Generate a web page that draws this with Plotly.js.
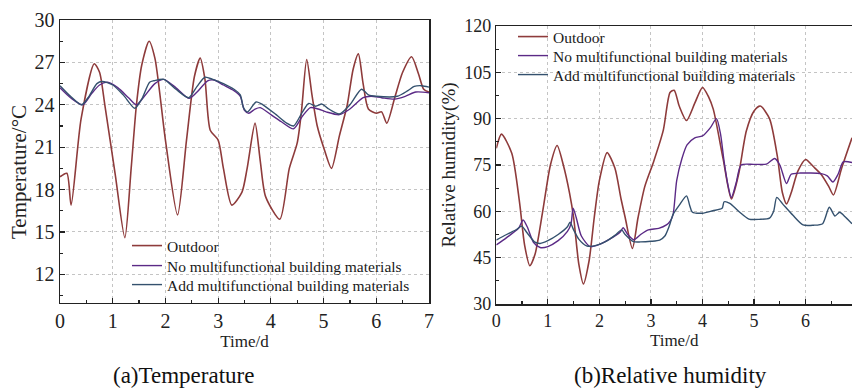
<!DOCTYPE html>
<html>
<head>
<meta charset="utf-8">
<script src="https://cdn.plot.ly/plotly-3.0.1.min.js"></script>
<style>html,body{margin:0;padding:0;background:#fff;}#chart{width:852px;height:392px;}</style>
</head>
<body>
<div id="chart"></div>
<script>
// ---------- (a) Temperature ----------
const tOutT = [0,0.13,0.21,0.4,0.65,0.75,0.85,1.05,1.23,1.35,1.45,1.55,1.69,1.8,2.0,2.23,2.4,2.55,2.66,2.75,2.85,3.0,3.1,3.26,3.45,3.55,3.7,3.8,3.9,4.17,4.35,4.5,4.58,4.68,4.78,4.88,5.0,5.15,5.3,5.45,5.56,5.66,5.75,5.85,6.0,6.1,6.2,6.35,6.5,6.67,6.8,6.9,7.0];
const outdoorT = [18.9,19.15,16.9,23.0,26.9,26.3,24.0,19.0,14.6,19.5,24.0,26.8,28.5,27.3,21.5,16.2,21.5,26.0,27.3,25.8,22.2,21.5,19.5,16.9,17.8,19.5,22.7,20.0,17.5,15.9,19.5,21.3,23.5,27.2,24.7,22.5,21.0,19.5,21.8,24.0,26.5,27.6,25.5,23.7,23.4,23.5,22.7,24.5,26.3,27.4,26.2,25.1,24.9];

const tNoT = [0,0.2,0.43,0.6,0.75,0.9,1.1,1.3,1.45,1.6,1.8,1.97,2.2,2.45,2.6,2.8,2.92,3.1,3.3,3.42,3.5,3.58,3.7,3.8,4.0,4.2,4.43,4.6,4.75,4.9,5.05,5.3,5.5,5.75,5.9,6.1,6.35,6.55,6.75,7.0];
const noT = [25.2,24.5,24.0,24.8,25.4,25.6,25.2,24.5,24.0,24.6,25.5,25.8,25.2,24.45,24.9,25.7,25.75,25.4,25.0,24.6,23.6,23.4,23.7,23.8,23.3,22.8,22.3,23.2,23.8,23.7,23.5,23.3,23.7,24.5,24.6,24.5,24.4,24.6,24.9,24.85];

const tAddT = [0,0.2,0.41,0.55,0.7,0.8,1.0,1.2,1.42,1.55,1.7,1.78,1.97,2.2,2.44,2.6,2.75,2.9,3.1,3.3,3.42,3.48,3.56,3.72,3.85,4.1,4.3,4.43,4.6,4.72,4.85,4.97,5.1,5.3,5.5,5.72,5.85,6.0,6.4,6.6,6.72,6.86,7.0];
const addT = [25.35,24.6,24.0,24.6,25.5,25.65,25.4,24.7,23.75,24.4,25.6,25.7,25.8,25.1,24.5,25.3,25.95,25.8,25.5,25.1,24.7,23.8,23.5,24.2,24.0,23.3,22.7,22.5,23.5,24.1,23.9,24.05,23.7,23.35,24.0,25.1,24.7,24.6,24.6,25.0,25.3,25.35,25.25];

// ---------- (b) Relative humidity ----------
const tOutH = [0,0.1,0.3,0.45,0.55,0.65,0.75,0.9,1.05,1.18,1.3,1.42,1.5,1.6,1.69,1.8,1.9,2.0,2.15,2.3,2.42,2.5,2.64,2.75,2.88,3.05,3.24,3.37,3.45,3.55,3.69,3.85,4.0,4.12,4.21,4.4,4.56,4.7,4.85,5.0,5.12,5.3,5.45,5.55,5.63,5.72,5.85,6.0,6.15,6.3,6.45,6.54,6.7,6.9];
const outdoorH = [80.4,85.0,78.8,63,49,42.4,46,60,75,81.3,75,66,58,43,36.5,44,58,70,79.0,74,64,58,48.0,58,68,76,86.3,98.5,99.2,94,89.4,95,100.1,97,93,77,64,72,86,92.5,94.1,90,78,66,62.4,66,73,76.8,74.5,72,68,65.3,74,83.8];

const tNoH = [0,0.2,0.43,0.52,0.6,0.72,0.85,1.0,1.2,1.38,1.45,1.49,1.55,1.65,1.82,2.0,2.2,2.4,2.46,2.55,2.67,2.8,2.95,3.15,3.3,3.38,3.43,3.5,3.6,3.7,3.85,4.0,4.15,4.27,4.35,4.42,4.5,4.56,4.65,4.75,5.0,5.24,5.4,5.5,5.63,5.72,5.9,6.3,6.42,6.53,6.63,6.73,6.9];
const noH = [49.1,51.5,54.5,57.2,55,50,48.3,48.6,50.5,53.5,56,61.0,58,52,48.6,49.3,51,53.2,54.7,52.5,50.8,52.5,54,54.5,55.6,57,59,70,77,81.5,83.8,84.4,87,90,85,76,68,64.5,69,75,75.2,75.3,77.1,75,69,72,72.4,72.2,71.5,69.5,72,76,75.8];

const tAddH = [0,0.2,0.4,0.49,0.6,0.75,0.85,1.0,1.2,1.38,1.43,1.5,1.6,1.75,1.9,2.1,2.3,2.43,2.5,2.66,2.8,3.0,3.17,3.27,3.35,3.43,3.55,3.69,3.75,3.8,4.0,4.2,4.38,4.42,4.53,4.7,4.9,5.1,5.3,5.38,5.44,5.55,5.75,5.95,6.15,6.33,6.46,6.57,6.66,6.78,6.9];
const addH = [50.7,52.5,54.2,55.2,53,50,49.6,50.5,52.5,55,56.5,54,51,48.8,48.8,50,52.2,54.0,52.5,50.2,50.1,50.3,50.7,52,55,59,62,65.0,62,59.8,59.4,60.2,61,63.1,62.6,60,57.5,57.4,57.8,60,64.5,62.5,58.8,55.6,55.5,56,61.3,58.5,59.7,58,56];

const seriesNames = ["Outdoor","No multifunctional building materials","Add multifunctional building materials"];
const colors = ["#8E3B3B","#5B2A86","#34516E"];

const FONT = "Liberation Serif, Times New Roman, serif";
const W = 852, H = 392;

function tr(x, y, i, xa, ya, leg) {
  return {
    x: x, y: y, type: "scatter", mode: "lines", name: seriesNames[i],
    xaxis: xa, yaxis: ya, legend: leg,
    line: {color: colors[i], width: i === 0 ? 1.6 : 1.4, shape: "spline", smoothing: 0.7}
  };
}

const data = [
  tr(tOutT, outdoorT, 0, "x", "y", "legend"),
  tr(tNoT, noT, 1, "x", "y", "legend2"),
  tr(tAddT, addT, 2, "x", "y", "legend3"),
  tr(tOutH, outdoorH, 0, "x2", "y2", "legend4"),
  tr(tNoH, noH, 1, "x2", "y2", "legend5"),
  tr(tAddH, addH, 2, "x2", "y2", "legend6")
];

function ax(extra, fs) {
  return Object.assign({
    showline: true, linecolor: "#222", linewidth: 1.5,
    ticks: "inside", ticklen: 5, tickwidth: 1.2, tickcolor: "#222",
    showgrid: true, gridcolor: "#c4c4c4", gridwidth: 1, griddash: "dot",
    zeroline: false, fixedrange: true,
    tickfont: {family: FONT, size: fs, color: "#222"}
  }, extra);
}
function leg(xpx, toppx) {
  return {x: xpx/W, y: 1 - toppx/H, xanchor: "left", yanchor: "top", bgcolor: "rgba(0,0,0,0)",
    borderwidth: 0, font: {family: FONT, size: 15.5, color: "#1a1a1a"}};
}

const layout = {
  width: W, height: H,
  margin: {l: 0, r: 0, t: 0, b: 0},
  paper_bgcolor: "#fff", plot_bgcolor: "#fff",
  font: {family: FONT, color: "#222"},
  showlegend: true,
  xaxis: ax({domain: [60/W, 429/W], range: [0, 7], dtick: 1, tick0: 0, mirror: true, anchor: "y",
    minor: {ticks: "inside", dtick: 0.5, ticklen: 3, tickcolor: "#222", showgrid: false},
    title: {text: "Time/d", font: {family: FONT, size: 17, color: "#222"}, standoff: 0}}, 20),
  yaxis: ax({domain: [1 - 302.6/H, 1 - 20/H], range: [10, 30], dtick: 3, tick0: 0, mirror: true, anchor: "x",
    minor: {ticks: "inside", dtick: 1.5, tick0: 0, ticklen: 3, tickcolor: "#222", showgrid: false}}, 20),
  xaxis2: ax({domain: [496.3/W, 1], range: [0, 6.9], dtick: 1, tick0: 0, mirror: true, anchor: "y2",
    minor: {ticks: "inside", dtick: 0.5, ticklen: 3, tickcolor: "#222", showgrid: false},
    title: {text: "Time/d", font: {family: FONT, size: 17, color: "#222"}, standoff: 0}}, 18),
  yaxis2: ax({domain: [1 - 304/H, 1 - 26/H], range: [30, 120], dtick: 15, tick0: 0, anchor: "x2",
    minor: {ticks: "inside", dtick: 7.5, tick0: 0, ticklen: 3, tickcolor: "#222", showgrid: false},
    title: {text: "Relative humidity(%)", font: {family: FONT, size: 19, color: "#222"}, standoff: 3}}, 18),
  legend: leg(127, 229),
  legend2: leg(127, 249),
  legend3: leg(127, 268),
  legend4: leg(513, 20),
  legend5: leg(513, 39),
  legend6: leg(513, 58),
  annotations: [
    {text: "Temperature/°C", xref: "paper", yref: "paper", x: 19/W, y: 1 - 172/H, textangle: -90,
     xanchor: "center", yanchor: "middle", showarrow: false, font: {family: FONT, size: 21, color: "#222"}},
    {text: "(a)Temperature", xref: "paper", yref: "paper", x: 183/W, y: 1 - 375/H,
     xanchor: "center", yanchor: "middle", showarrow: false, font: {family: FONT, size: 23, color: "#111"}},
    {text: "(b)Relative humidity", xref: "paper", yref: "paper", x: 670/W, y: 1 - 375/H,
     xanchor: "center", yanchor: "middle", showarrow: false, font: {family: FONT, size: 23, color: "#111"}}
  ]
};

Plotly.newPlot("chart", data, layout, {displayModeBar: false, staticPlot: true});
</script>
</body>
</html>
